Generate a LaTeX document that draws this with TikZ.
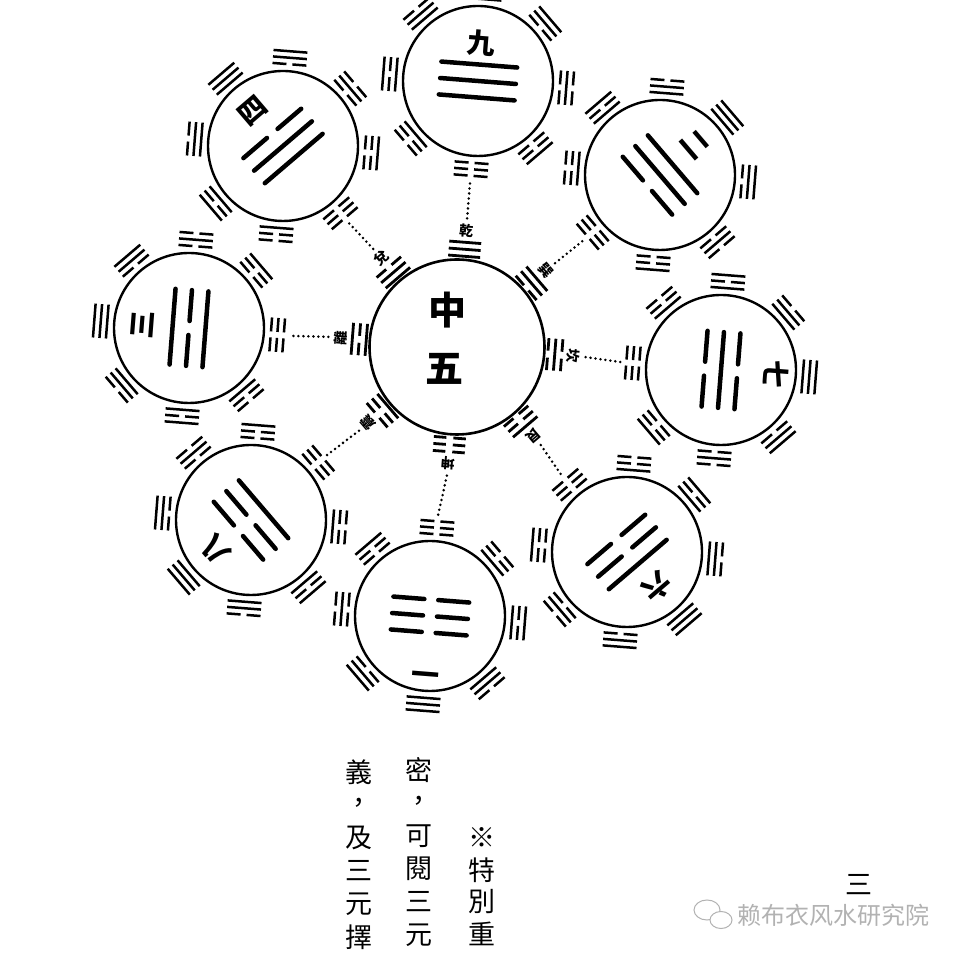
\documentclass[tikz,border=0pt]{standalone}
\usepackage{fontspec}
\newfontfamily\cjk{Noto Sans CJK TC}
\newfontfamily\cjksc{Noto Sans CJK SC}
\tikzset{
 ring/.style={circle, draw=black, line width=2.4pt, inner sep=0pt},
 smallyao/.style={line width=2.5pt},
 bigyao/.style={line width=4.5pt, line cap=round},
 coreyao/.style={line width=2.8pt},
 dotline/.style={line width=2.8pt, dash pattern=on 0pt off 5pt, line cap=round},
 numeral/.style={font=\cjk\bfseries\fontsize{28}{28}\selectfont, inner sep=0pt},
 corelab/.style={font=\cjk\bfseries\fontsize{14}{14}\selectfont, inner sep=0pt},
 bigchar/.style={font=\cjk\bfseries\fontsize{38}{38}\selectfont, inner sep=0pt},
 vchar/.style={font=\cjk\fontsize{27}{27}\selectfont, inner sep=0pt},
 wmark/.style={font=\cjksc\fontsize{24}{24}\selectfont, text=gray!60, inner sep=0pt},
}
\newcommand\yao[2]{%
  \ifnum#1=1\relax
    \draw (-\guaL,#2) -- (\guaL,#2);
  \else
    \draw (-\guaL,#2) -- (-\guaG,#2) (\guaG,#2) -- (\guaL,#2);
  \fi}
\def\guacode#1#2#3{\yao{#1}{0}\yao{#2}{\guaS}\yao{#3}{2*\guaS}}
% #1 name, #2 x, #3 y, #4 rotation, #5 big trigram code, #6 numeral, #7 numeral offset
\newcommand\palace[7]{%
  \node[ring, minimum size=150pt] (#1) at (#2,#3) {};
  \begin{scope}[shift={(#2,#3)}, rotate=#4]
    \foreach \ta/\gc in {90/111,135/110,180/101,225/100,270/000,315/001,0/010,45/011}{%
      \begin{scope}[rotate=\ta-90, shift={(0,82)}, smallyao]
        \def\guaL{17}\def\guaG{3}\def\guaS{6.5}%
        \expandafter\guacode\gc
      \end{scope}}
    \begin{scope}[shift={(0,-16.5)}, bigyao]
      \def\guaL{38}\def\guaG{7}\def\guaS{16.5}%
      \guacode#5
    \end{scope}
    \node[numeral, rotate=#4] (#1-num) at (0,#7) {#6};
    \coordinate (#1-in) at (0,-100);
  \end{scope}}
\begin{document}
\begin{tikzpicture}[x=1pt,y=1pt]
\useasboundingbox (0,0) rectangle (960,960);
\fill[white] (0,0) rectangle (960,960);
\clip (0,0) rectangle (960,960);

% centre palace
\node[ring, line width=2.6pt, minimum size=175pt] (core) at (457,613) {};
\begin{scope}[shift={(457,613)}, rotate=-4.5]
  \foreach \ta/\gc/\lab in {90/111/乾,135/110/兌,180/101/離,225/100/震,270/000/坤,315/001/艮,0/010/坎,45/011/巽}{%
    \begin{scope}[rotate=\ta-90, shift={(0,91)}, coreyao]
      \def\guaL{16}\def\guaG{3.5}\def\guaS{7}%
      \expandafter\guacode\gc
    \end{scope}
    \node[corelab, rotate=\ta-94.5] (lab-\ta) at (\ta:117) {\lab};
    \coordinate (cd-\ta) at (\ta:129);
  }
\end{scope}
\node[bigchar] (zhong) at (447,650) {中};
\node[bigchar] (wu) at (444,591) {五};

% outer palaces
\palace{p9}{478}{879}{-4.5}{111}{九}{38}
\palace{p4}{283}{814}{40.5}{110}{四}{46}
\palace{p3}{189}{632}{85.5}{101}{三}{47}
\palace{p8}{251}{440}{130.5}{100}{八}{46}
\palace{p1}{430}{344}{175.5}{000}{一}{54}
\palace{p6}{627}{408}{220.5}{001}{六}{46}
\palace{p7}{721}{590}{265.5}{010}{七}{55}
\palace{p2}{660}{785}{-49.5}{011}{二}{46}

% dotted connectors
\draw[dotline] (cd-90) -- (p9-in);
\draw[dotline] (cd-135) -- (p4-in);
\draw[dotline] (cd-180) -- (p3-in);
\draw[dotline] (cd-225) -- (p8-in);
\draw[dotline] (cd-270) -- (p1-in);
\draw[dotline] (cd-315) -- (p6-in);
\draw[dotline] (cd-0) -- (p7-in);
\draw[dotline] (cd-45) -- (p2-in);

% vertical text columns
\foreach \ch [count=\i] in {義,，,及,三,元,擇}
  \node[vchar] (ca-\i) at (359,{960-772-33*(\i-1)}) {\ch};
\foreach \ch [count=\i] in {密,，,可,閱,三,元}
  \node[vchar] (cb-\i) at (419,{960-770-33*(\i-1)}) {\ch};
\foreach \ch [count=\i] in {※,特,別,重}
  \node[vchar] (cc-\i) at (482,{960-838-32*(\i-1)}) {\ch};
\node[vchar] (cd4) at (859,75) {三};

% watermark
\draw[gray!60, line width=1pt, fill=white] (707,50) ellipse (13 and 10);
\draw[gray!60, line width=1pt, fill=white] (721,40) ellipse (11 and 8.5);
\node[wmark, anchor=west] (wm) at (737,45) {赖布衣风水研究院};
\end{tikzpicture}
\end{document}
